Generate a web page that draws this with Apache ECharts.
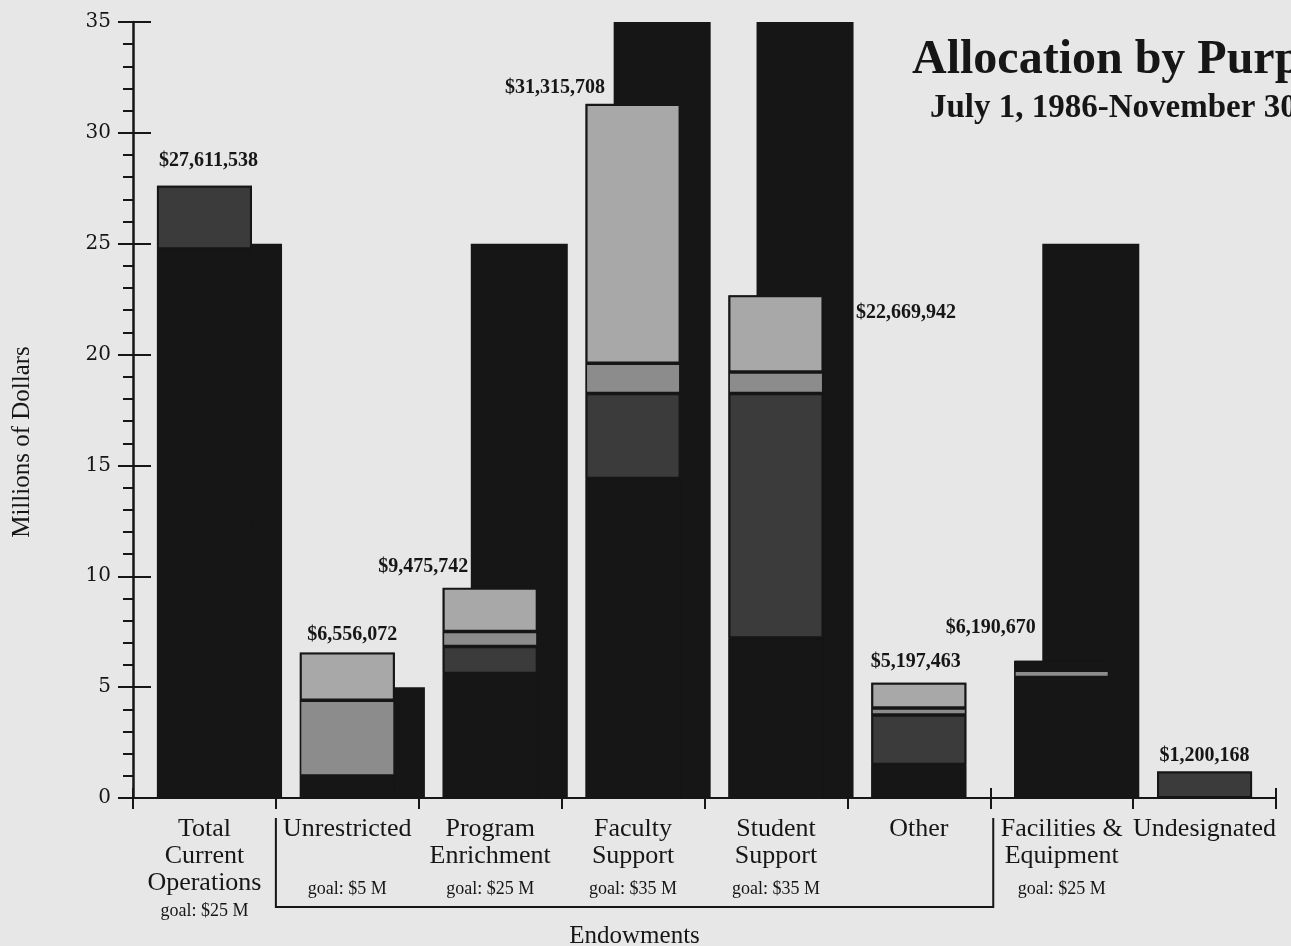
<!DOCTYPE html>
<html><head><meta charset="utf-8">
<script src="https://cdn.jsdelivr.net/npm/echarts@6/dist/echarts.min.js"></script>
<style>html,body{margin:0;padding:0;background:#e7e7e7;} #c{width:1291px;height:946px;}</style>
</head><body><div id="c"></div>
<script>
// ---- data (millions of dollars unless noted) ----
const categories = ['Total\nCurrent\nOperations','Unrestricted','Program\nEnrichment','Faculty\nSupport','Student\nSupport','Other','Facilities &\nEquipment','Undesignated'];
const goals = [25, 5, 25, 35, 35, null, 25, null];
const totals = [27611538, 6556072, 9475742, 31315708, 22669942, 5197463, 6190670, 1200168];
const segBlack    = [24.75, 1.0, 5.6, 14.4, 7.2, 1.5, 5.45, 0];
const segDark     = [2.86, 0, 1.25, 3.85, 11.05, 2.25, 0, 1.2];
const segMid      = [0, 3.4, 0.65, 1.35, 0.95, 0.3, 0.3, 0];
const segLight    = [0, 2.16, 1.98, 11.7, 3.47, 1.15, 0, 0];
const segTopBlack = [0, 0, 0, 0, 0, 0, 0.44, 0];
const endowments = {name: 'Endowments', first: 1, last: 5};
const yMin = 0, yMax = 35, yStep = 5;

// ---- presentation ----
const INK = '#161616';
const SERIF = '"Liberation Serif", "DejaVu Serif", serif';
const labelNudge = [[4,-25],[5,-18],[-67,-21],[-78,-16],[130,17],[-3,-21],[-71,-33],[0,-16]];
const nz = a => a.map(v => v === 0 ? '-' : v);

const chart = echarts.init(document.getElementById('c'), null, {renderer: 'canvas'});

function segSeries(name, data, color, border) {
  return {
    name, type: 'bar', xAxisIndex: 0, yAxisIndex: 0, stack: 'raised', barWidth: 95, z: 3,
    data: nz(data),
    itemStyle: {color, borderColor: INK, borderWidth: border}
  };
}

const hiddenCat = (extra) => Object.assign({
  type: 'category', data: categories, position: 'bottom',
  axisLine: {show: false}, axisTick: {show: false}, axisLabel: {show: false}, splitLine: {show: false}
}, extra || {});

const option = {
  backgroundColor: '#e7e7e7',
  animation: false,
  title: [
    {text: 'Allocation by Purpose', left: 907, top: 32, textStyle: {fontFamily: SERIF, fontWeight: 'bold', fontSize: 48, color: INK}},
    {text: 'July 1, 1986-November 30', left: 925, top: 87, textStyle: {fontFamily: SERIF, fontWeight: 'bold', fontSize: 33, color: INK}}
  ],
  grid: {left: 133, right: 15, top: 22, bottom: 148, containLabel: false},
  xAxis: [
    {
      type: 'category', data: categories, position: 'bottom',
      axisLine: {show: true, lineStyle: {color: INK, width: 2}},
      axisTick: {show: true, length: 11, lineStyle: {color: INK, width: 2}},
      axisLabel: {
        interval: 0, margin: 18, color: INK,
        formatter: (val, idx) => {
          const lines = val.split('\n').map(l => '{n|' + l + '}');
          if (goals[idx] != null) {
            const style = lines.length > 2 ? 'g3' : 'g';
            while (lines.length < 2) lines.push('{n| }');
            lines.push('{' + style + '|goal: $' + goals[idx] + ' M}');
          }
          return lines.join('\n');
        },
        rich: {
          n: {fontFamily: SERIF, fontSize: 26, lineHeight: 27, color: INK},
          g: {fontFamily: SERIF, fontSize: 18, lineHeight: 38, color: INK},
          g3: {fontFamily: SERIF, fontSize: 18, lineHeight: 29, color: INK}
        }
      },
      splitLine: {show: false}
    },
    hiddenCat({axisTick: {show: true, inside: true, length: 10, lineStyle: {color: INK, width: 2}}}),
    hiddenCat()
  ],
  yAxis: [
    {
      type: 'value', position: 'left', min: yMin, max: yMax, interval: yStep,
      name: 'Millions of Dollars', nameLocation: 'middle', nameGap: 98, nameRotate: 90,
      nameTextStyle: {fontFamily: SERIF, fontSize: 25, color: INK, padding: [0, 64, 0, 0]},
      axisLine: {show: true, lineStyle: {color: INK, width: 2.5}},
      axisTick: {show: true, length: 15, lineStyle: {color: INK, width: 2}},
      minorTick: {show: true, splitNumber: 5, length: 10, lineStyle: {color: INK, width: 2}},
      axisLabel: {margin: 22, fontFamily: '"DejaVu Serif", serif', fontSize: 20, color: INK},
      splitLine: {show: false}
    },
    {
      type: 'value', position: 'left', min: yMin, max: yMax, interval: yStep,
      axisLine: {show: false},
      axisTick: {show: true, inside: true, length: 18, lineStyle: {color: INK, width: 2}},
      axisLabel: {show: false},
      splitLine: {show: false}
    }
  ],
  series: [
    {name: 'spacer', type: 'bar', xAxisIndex: 1, yAxisIndex: 0, barWidth: 97, barGap: '-40%', data: goals.map(() => '-'), z: 1},
    {name: 'goal', type: 'bar', xAxisIndex: 1, yAxisIndex: 0, barWidth: 97, barGap: '-40%', z: 1,
     data: goals.map(g => g == null ? '-' : g), itemStyle: {color: INK}},
    {name: 'underlay', type: 'bar', xAxisIndex: 2, yAxisIndex: 0, barWidth: 95, z: 2,
     data: totals.map(t => t / 1e6), itemStyle: {color: INK}},
    segSeries('black', segBlack, INK, 1),
    segSeries('dark', segDark, '#3b3b3b', 2),
    segSeries('mid', segMid, '#8c8c8c', 1.5),
    segSeries('light', segLight, '#a8a8a8', 2),
    segSeries('blackTop', segTopBlack, INK, 1),
    {
      name: 'totals', type: 'scatter', xAxisIndex: 0, yAxisIndex: 0, symbolSize: 0, z: 5,
      itemStyle: {opacity: 1},
      data: totals.map((t, i) => ({value: t / 1e6, label: {offset: labelNudge[i]}})),
      label: {
        show: true, position: 'inside', color: INK,
        fontFamily: SERIF, fontWeight: 'bold', fontSize: 20,
        formatter: p => '$' + totals[p.dataIndex].toLocaleString('en-US')
      }
    }
  ]
};
chart.setOption(option);

// Endowments bracket from axis positions
const c0 = chart.convertToPixel({xAxisIndex: 0}, endowments.first);
const c1 = chart.convertToPixel({xAxisIndex: 0}, endowments.first + 1);
const band = c1 - c0;
const bl = c0 - band / 2;
const br = chart.convertToPixel({xAxisIndex: 0}, endowments.last) + band / 2 + 3;
const yTop = 818, yBot = 907;
chart.setOption({
  graphic: [
    {type: 'polyline', shape: {points: [[bl, yTop], [bl, yBot], [br, yBot], [br, yTop]]}, style: {stroke: INK, lineWidth: 2, fill: null}},
    {type: 'text', x: (bl + br) / 2, y: 936, style: {text: endowments.name, fontFamily: SERIF, fontSize: 25, fill: INK, align: 'center', verticalAlign: 'middle'}}
  ]
});
</script></body></html>
